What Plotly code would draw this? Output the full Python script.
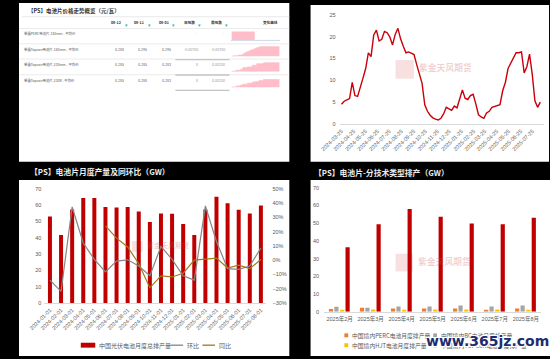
import pandas as pd
import plotly.graph_objects as go

W, H = 550, 359
def px(x): return x / W
def py(y): return 1 - y / H

FONT = "Liberation Sans, Noto Sans CJK SC, sans-serif"
CJK = "Noto Sans CJK SC, Liberation Sans, sans-serif"
TICK = "#595959"

# ---------------- data ----------------
# top-left: price overview table
table_title = "【PS】电池片价格走势概览（元/瓦）"
table_headers = ["08-12", "08-11", "08-01", "日涨跌", "周涨跌", "变化曲线"]
table_products = ["单晶PERC电池片-182mm - 平均价", "单晶Topcon电池片-183mm - 平均价",
                  "单晶Topcon电池片-210mm - 平均价", "单晶Topcon电池片-210R - 平均价"]
price_08_12 = ["", "0.288", "0.285", "0.285"]
price_08_11 = ["", "0.295", "0.285", "0.288"]
price_08_01 = ["", "0.295", "0.283", "0.283"]
change_day = ["-", "-0.00700", "0", "0"]
change_week = ["-", "-0.00700", "0.00200", "0.00200"]
spark_perc_182 = [1, 1, 1, 1, 1, 1, 1, 1, 1, 1, 0, 0, 0, 0, 0, 0, 0, 0, 0, 0, 0, 0]
spark_topcon_183 = [1, 2, 2, 4, 4, 8, 12, 15, 18, 20, 23, 26, 29, 29, 30, 30, 30, 30, 30, 30, 30, 30]
spark_topcon_210 = [2, 2, 5, 5, 8, 13, 13, 15, 15, 20, 20, 25, 25, 25, 28, 28, 28, 28, 28, 28, 28, 28]
spark_topcon_210r = [2, 2, 5, 5, 8, 11, 11, 14, 14, 17, 19, 19, 23, 23, 26, 26, 26, 26, 26, 26, 26, 26]

# top-right: weekly line
tr_values = [4.5, 5.2, 5.5, 5.8, 9.5, 6.5, 6.3, 8.7, 10.5, 12.7,
             16.3, 15.4, 20.4, 21.5, 19.0, 19.4, 21.2, 20.9, 19.9, 18.1,
             20.5, 21.9, 19.5, 17.8, 16.3, 16.5, 16.2, 15.9, 13.6, 11.4,
             9.3, 4.4, 2.9, 2.0, 1.4, 1.1, 0.9, 1.3, 2.3, 3.8,
             3.5, 3.1, 4.1, 3.7, 5.7, 7.8, 5.9, 5.6, 6.5, 6.8,
             4.6, 2.1, 1.6, 1.3, 2.5, 2.9, 3.8, 4.0, 4.2, 4.4,
             7.6, 9.5, 12.7, 13.9, 15.0, 16.3, 16.3, 16.5, 11.7, 13.1,
             16.0, 11.4, 5.3, 3.8, 5.0]
tr_start, tr_end = "2024-03-25", "2025-08-14"
tr_tick_labels = ["2024-03-25", "2024-04-25", "2024-05-25", "2024-06-25", "2024-07-25",
                  "2024-08-25", "2024-09-25", "2024-10-25", "2024-11-25", "2024-12-25",
                  "2025-01-25", "2025-02-25", "2025-03-25", "2025-04-25", "2025-05-25",
                  "2025-06-25", "2025-07-25"]

# bottom-left: monthly output + MoM / YoY
bl_title = "【PS】电池片月度产量及同环比（GW）"
bl_months = ["2024-01-01", "2024-02-01", "2024-03-01", "2024-04-01", "2024-05-01",
             "2024-06-01", "2024-07-01", "2024-08-01", "2024-09-01", "2024-10-01",
             "2024-11-01", "2024-12-01", "2025-01-01", "2025-02-01", "2025-03-01",
             "2025-04-01", "2025-05-01", "2025-06-01", "2025-07-01", "2025-08-01"]
bl_output = [53.0, 41.6, 57.3, 64.4, 64.4, 58.9, 58.5, 58.9, 56.1, 49.6,
             54.9, 54.7, 48.4, 41.6, 57.3, 65.2, 61.1, 57.1, 54.9, 59.7]
bl_mom = [-14.0, -21.9, 37.3, 12.0, 0.5, -8.3, -0.7, 0.2, -4.1, -11.0,
          9.7, 0.5, -11.0, -14.0, 38.0, 13.1, -6.0, -6.5, -4.1, 8.5]
bl_yoy = [None, None, None, None, None, 24.0, 15.4, 9.2, -2.5, -19.4,
          -11.0, -11.8, -9.2, 0.0, 0.5, 1.4, -5.5, -3.5, -6.0, 0.5]
bl_names = ["中国光伏电池月度总排产量", "环比", "同比"]

# bottom-right: output by technology
br_title = "【PS】电池片-分技术类型排产（GW）"
br_months = ["2025年2月", "2025年3月", "2025年4月", "2025年5月", "2025年6月", "2025年7月", "2025年8月"]
br_perc = [1.5, 2.2, 1.9, 1.9, 1.9, 0.7, 1.9]
br_bc = [2.8, 2.2, 3.0, 3.0, 3.5, 3.0, 3.5]
br_hjt = [0.7, 1.3, 1.1, 1.3, 1.3, 1.3, 0.7]
br_topcon = [36.5, 49.4, 58.0, 53.7, 49.8, 49.4, 53.1]
br_names = ["中国境内PERC电池月度排产量", "中国境内BC电池月度排产量",
            "中国境内HJT电池月度排产量", "中国境内TOPCon电池月度排产量"]

# ---------------- figure ----------------
fig = go.Figure()
shapes, anns = [], []

def rect(x0, y0, x1, y1, color, layer="below"):
    shapes.append(dict(type="rect", xref="paper", yref="paper", x0=px(x0), x1=px(x1),
                       y0=py(y1), y1=py(y0), fillcolor=color, line=dict(width=0), layer=layer))

def hline(x0, x1, y, color, width=0.8, layer="above"):
    shapes.append(dict(type="line", xref="paper", yref="paper", x0=px(x0), x1=px(x1),
                       y0=py(y), y1=py(y), line=dict(color=color, width=width), layer=layer))

def text(t, x, y, size, color, xanchor="left", family=CJK, bold=False, **kw):
    anns.append(dict(text=t, x=px(x), y=py(y), xref="paper", yref="paper", showarrow=False,
                     xanchor=xanchor, yanchor="middle",
                     font=dict(size=size, color=color, family=family,
                               weight="bold" if bold else "normal", **kw.pop("fontkw", {})),
                     **kw))

# white panels
rect(0, 0, 280, 161.5, "white")
rect(302, 2, 549, 161.5, "white")
rect(0, 180, 280, 359, "white")
rect(302, 180, 550, 359, "white")

# ---- top-left table ----
text(table_title, 7, 8, 5.5, "#333333", bold=True)
hline(3, 280, 14, "#E3E3E3")
hdr_x = [111, 135, 160, 187, 215]
for h, x in zip(table_headers[:5], hdr_x):
    text(h, x - 3, 19.5, 3.6, "#333333", xanchor="right", bold=True)
    text("▾", x, 22, 4.5, "#2DB5A5", xanchor="center")
text(table_headers[5], 270, 19.5, 3.6, "#333333", xanchor="right", bold=True)
for yl in [26, 41.5, 57, 73]:
    hline(0, 280, yl, "#E6E6E6")
row_y = [31.5, 47.5, 63, 78.5]
for i, name in enumerate(table_products):
    y = row_y[i]
    text(name, 3, y, 3.4, "#555555")
    for vals, x in zip([price_08_12, price_08_11, price_08_01], hdr_x[:3]):
        if vals[i]:
            text(vals[i], x, y, 3.6, "#666666", xanchor="right")
    text(change_day[i], hdr_x[3], y, 3.6, "#999999", xanchor="right")
    text(change_week[i], hdr_x[4], y, 3.6, "#999999", xanchor="right")
for yl in [57.5, 73.2, 88.8]:
    hline(162, 218, yl, "#C4C4C4", width=1.3)

spark_sets = [spark_perc_182, spark_topcon_183, spark_topcon_210, spark_topcon_210r]
spark_dom = [(29, 38), (44, 54.3), (60, 70), (76.5, 86)]
spark_rng = [[0, 1], [0, 30], [0, 30], [0, 30]]
spark_idx = list(range(len(spark_perc_182)))
layout_axes = {}
for k, (vals, (t0, t1), rng) in enumerate(zip(spark_sets, spark_dom, spark_rng)):
    n = 5 + k
    fig.add_trace(go.Scatter(x=spark_idx, y=vals, mode="lines", line=dict(color="#FFB8C6", width=0.6, shape="hv"),
                             fill="tozeroy", fillcolor="#FFBDC9", xaxis=f"x{n}", yaxis=f"y{n}",
                             showlegend=False, hoverinfo="skip"))
    layout_axes[f"xaxis{n}"] = dict(domain=[px(220), px(270)], anchor=f"y{n}", range=[0, 21],
                                    showgrid=False, zeroline=False, showticklabels=False,
                                    showline=(k == 0), linecolor="#D3DAEA", linewidth=1, ticks="")
    layout_axes[f"yaxis{n}"] = dict(domain=[py(t1), py(t0)], anchor=f"x{n}", range=rng,
                                    showgrid=False, zeroline=False, showticklabels=False, ticks="")

# ---- top-right line ----
tr_dates = pd.date_range(tr_start, tr_end, periods=len(tr_values))
fig.add_trace(go.Scatter(x=tr_dates, y=tr_values, mode="lines", line=dict(color="#C8000A", width=1.4),
                         xaxis="x", yaxis="y", showlegend=False, hoverinfo="skip"))

# ---- bottom-left ----
fig.add_trace(go.Bar(x=bl_months, y=bl_output, name=bl_names[0], marker=dict(color="#C00000", line=dict(width=0)),
                     width=0.36, xaxis="x2", yaxis="y2", showlegend=False))
fig.add_trace(go.Scatter(x=bl_months, y=bl_mom, name=bl_names[1], mode="lines",
                         line=dict(color="#858585", width=1.2), xaxis="x2", yaxis="y3", showlegend=False))
fig.add_trace(go.Scatter(x=bl_months, y=bl_yoy, name=bl_names[2], mode="lines",
                         line=dict(color="#9E7C16", width=1.2), xaxis="x2", yaxis="y3", showlegend=False))

# ---- bottom-right ----
br_series = [br_perc, br_bc, br_hjt, br_topcon]
br_colors = ["#ED7D31", "#A5A5A5", "#FFC000", "#C00000"]
br_offsets = [-0.345, -0.17, 0.015, 0.19]
for vals, nm, c, off in zip(br_series, br_names, br_colors, br_offsets):
    fig.add_trace(go.Bar(x=br_months, y=vals, name=nm, marker=dict(color=c, line=dict(width=0)),
                         width=0.135, offset=off, xaxis="x4", yaxis="y4", showlegend=False))

tickfont = dict(size=5.5, color=TICK, family=FONT)
axis_common = dict(showgrid=False, zeroline=False, ticks="", tickfont=tickfont, fixedrange=True)

layout_axes.update(
    xaxis=dict(domain=[px(332), px(544)], anchor="y", type="date", range=["2024-03-20", "2025-08-24"],
               tickvals=tr_tick_labels, ticktext=tr_tick_labels, tickangle=-45,
               showline=True, linecolor="#D9D9D9", linewidth=0.8, ticklabelstandoff=1, **axis_common),
    yaxis=dict(domain=[py(123), py(12)], anchor="x", range=[0, 25], dtick=5,
               ticklabelstandoff=3, **axis_common),
    xaxis2=dict(domain=[px(26.3), px(256.3)], anchor="y2", type="category", tickangle=-45,
                showline=True, linecolor="#D9D9D9", linewidth=0.8, ticklabelstandoff=1, **axis_common),
    yaxis2=dict(domain=[py(305), py(189)], anchor="x2", range=[0, 70], dtick=10,
                ticklabelstandoff=2, **axis_common),
    yaxis3=dict(overlaying="y2", side="right", anchor="x2", range=[-30, 50], dtick=10, ticksuffix="%",
                ticklabelstandoff=5, **axis_common),
    xaxis4=dict(domain=[px(316), px(541)], anchor="y4", type="category",
                showline=True, linecolor="#D9D9D9", linewidth=0.8, ticklabelstandoff=2, **axis_common),
    yaxis4=dict(domain=[py(314), py(188)], anchor="x4", range=[0, 70], dtick=10,
                ticklabelstandoff=4, **axis_common),
)

# ---- panel titles on black ----
text(bl_title, 9, 171.5, 7.8, "#EEEEEE", bold=True)
text(br_title, 303, 172.5, 7.8, "#EEEEEE", bold=True)

# ---- watermarks ----
def watermark(x0, y0, size, tsize):
    rect(x0, y0, x0 + size, y0 + size, "rgba(214,60,60,0.16)", layer="below")
    text("紫金天风期货", x0 + size + 3, y0 + size * 0.42, tsize, "rgba(205,90,90,0.28)", bold=True)

watermark(390, 58, 19, 8.8)
watermark(117, 242, 11, 7)
watermark(390, 255, 18, 8.8)

# ---- manual legends ----
def leg_rect(x0, x1, yc, hgt, color):
    rect(x0, yc - hgt / 2, x1, yc + hgt / 2, color, layer="above")

leg_rect(64, 79, 348, 5, "#C00000")
text(bl_names[0], 81, 348, 6, TICK)
hline(157, 170, 348, "#858585", width=1.3)
text(bl_names[1], 172, 348, 6, TICK)
hline(190, 203, 348, "#9E7C16", width=1.3)
text(bl_names[2], 205, 348, 6, TICK)

leg_pos = [(337, 338), (429, 338), (337, 348), (429, 348)]
for (lx, ly), nm, c in zip(leg_pos, br_names, br_colors):
    leg_rect(lx, lx + 4, ly, 4, c)
    text(nm, lx + 6, ly, 5.8, TICK)

# site watermark
text("<b>www.365jz.com</b>", 485, 344, 14, "#1E2C6E", xanchor="center", family="DejaVu Sans, sans-serif",
     fontkw=dict(shadow="1px 1px 0 #fff, -1px -1px 0 #fff, 1px -1px 0 #fff, -1px 1px 0 #fff"))

fig.update_layout(
    width=W, height=H, autosize=False,
    margin=dict(l=0, r=0, t=0, b=0),
    paper_bgcolor="black", plot_bgcolor="white",
    font=dict(family=FONT, color=TICK),
    showlegend=False, bargap=0.3,
    shapes=shapes, annotations=anns,
    **layout_axes,
)

fig.write_html("out.html", config={"displayModeBar": False, "staticPlot": False},
               post_script="document.body.style.margin='0';document.body.style.background='black';")
